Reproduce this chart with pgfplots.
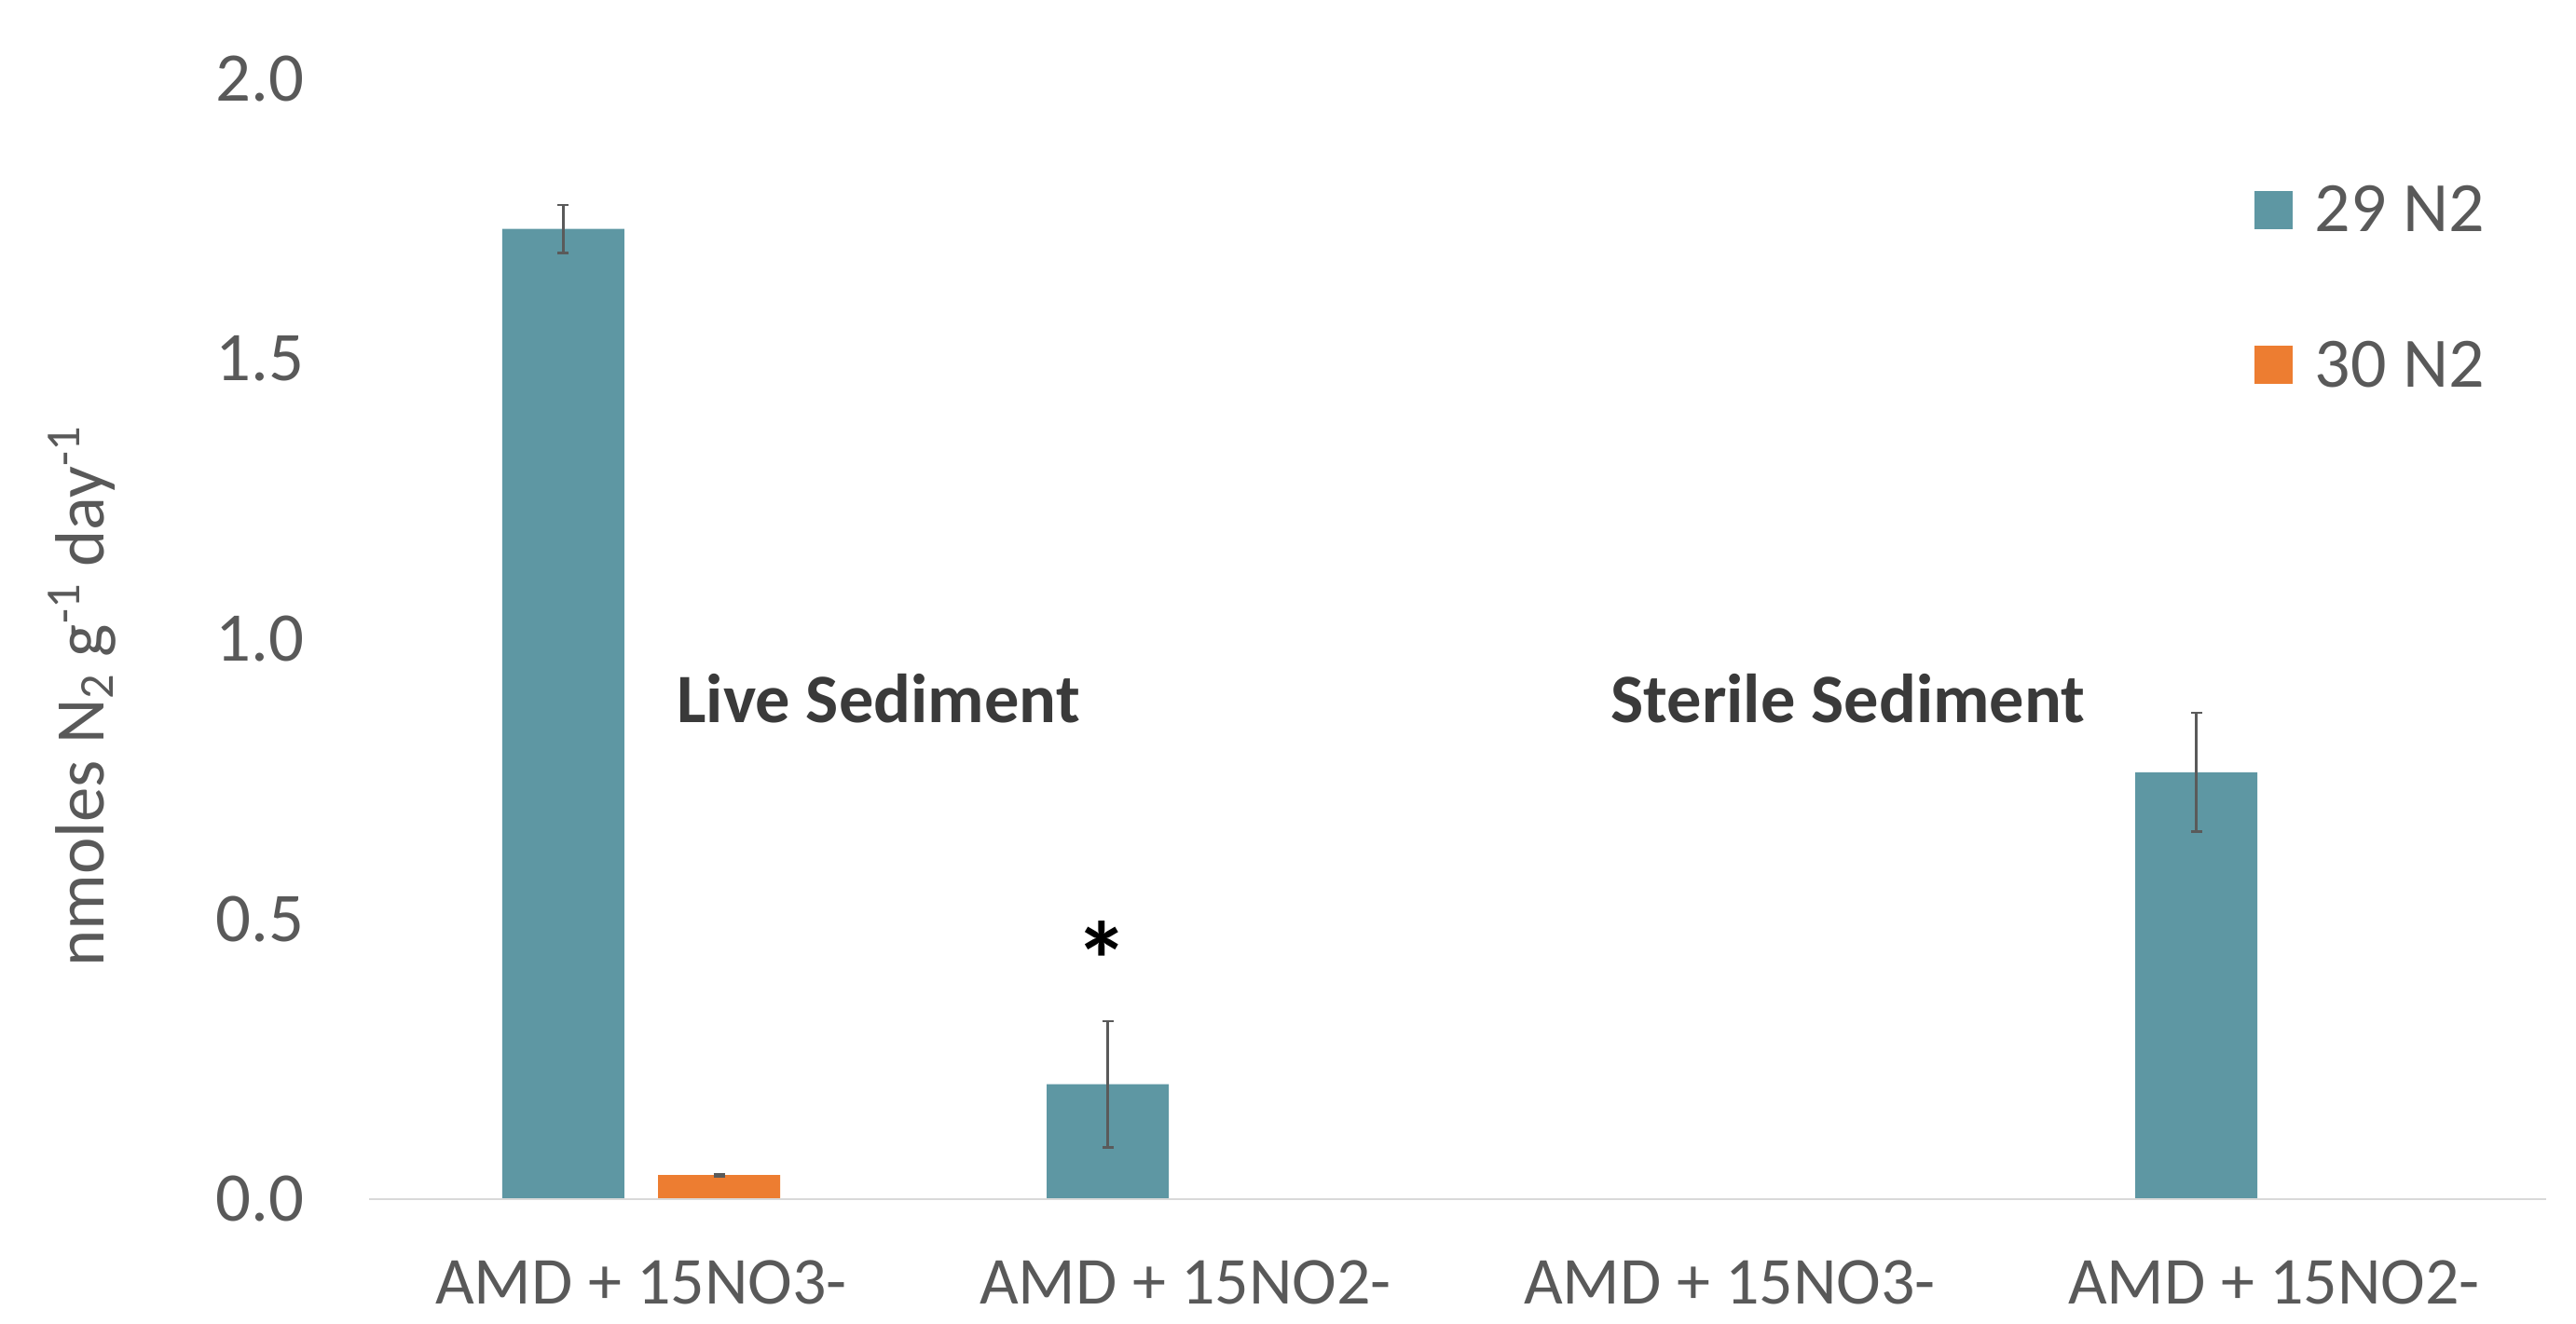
\documentclass[border=0pt]{standalone}
\usepackage{fontspec}
\setmainfont{Carlito}
\usepackage{pgfplots}
\pgfplotsset{compat=1.18}
\definecolor{bluebar}{HTML}{5E97A3}
\definecolor{orangebar}{HTML}{ED7D31}
\definecolor{txtgray}{HTML}{595959}
\definecolor{darktxt}{HTML}{3A3A3A}
\definecolor{axgray}{HTML}{D9D9D9}
\definecolor{errgray}{HTML}{5A5A5A}
\begin{document}
\begin{tikzpicture}
\useasboundingbox (0,0) rectangle (691pt,355.25pt);
\begin{axis}[
  at={(99pt,33.5pt)}, anchor=south west,
  width=584pt, height=300.6pt, scale only axis,
  xmin=-0.5, xmax=3.5, ymin=0, ymax=2,
  clip=false,
  ybar=9pt, bar width=32.75pt,
  axis line style={draw=none},
  major tick style={draw=none},
  xtick={0,1,2,3},
  xticklabels={AMD + 15NO3-, AMD + 15NO2-, AMD + 15NO3-, AMD + 15NO2-},
  ytick={0,0.5,1,1.5,2},
  /pgf/number format/assume math mode=true,
  yticklabel style={/pgf/number format/.cd, fixed, fixed zerofill, precision=1, /tikz/.cd,
     anchor=east, inner sep=0pt, xshift=-17.3pt, text=txtgray, font=\fontsize{18.7}{22}\selectfont},
  xticklabel style={anchor=north, inner sep=0pt, yshift=-12pt, text=txtgray, font=\fontsize{18}{22}\selectfont},
  ylabel={nmoles N\textsubscript{2} g\textsuperscript{-1} day\textsuperscript{-1}},
  ylabel style={at={(axis description cs:-0.1318,0.449)}, anchor=center, text=txtgray, font=\fontsize{18.7}{22}\selectfont},
  legend style={at={(axis description cs:0.8656,0.905)}, anchor=north west, draw=none, fill=none,
     text=txtgray, font=\fontsize{19}{22}\selectfont, row sep=27.7pt, inner sep=0pt, column sep=0pt,
     nodes={inner sep=0pt}},
  legend cell align=left,
  legend image code/.code={\fill[#1] (0pt,-4.7pt) rectangle (10.25pt,5.55pt); \path (16.25pt,0pt);},
  error bars/y dir=both, error bars/y explicit,
  error bars/error mark=|,
  error bars/error bar style={errgray, line width=0.6pt},
  error bars/error mark options={errgray, line width=0.6pt, mark size=1.5pt},
]
\addplot[fill=bluebar, draw=none] coordinates {
  (0,1.732) +- (0,0.043)
  (1,0.205) +- (0,0.113)
  (2,0) +- (0,0)
  (3,0.762) +- (0,0.106)
};
\addlegendentry{29 N2}
\addplot[fill=orangebar, draw=none] coordinates {
  (0,0.043) +- (0,0.002)
  (1,0) +- (0,0)
  (2,0) +- (0,0)
  (3,0) +- (0,0)
};
\addlegendentry{30 N2}
\draw[axgray, line width=0.6pt] (axis cs:-0.5,0) -- (axis cs:3.5,0);
\node[anchor=base, inner sep=0pt, text=darktxt, font=\fontsize{18.6}{22}\selectfont\bfseries] at (axis cs:0.436,0.850) {Live Sediment};
\node[anchor=base, inner sep=0pt, text=darktxt, font=\fontsize{18.6}{22}\selectfont\bfseries] at (axis cs:2.2175,0.850) {Sterile Sediment};
\node[anchor=north, inner sep=0pt, text=black, font=\fontsize{29}{33}\selectfont\bfseries] at (axis cs:0.846,0.497) {*};
\end{axis}
\end{tikzpicture}
\end{document}
